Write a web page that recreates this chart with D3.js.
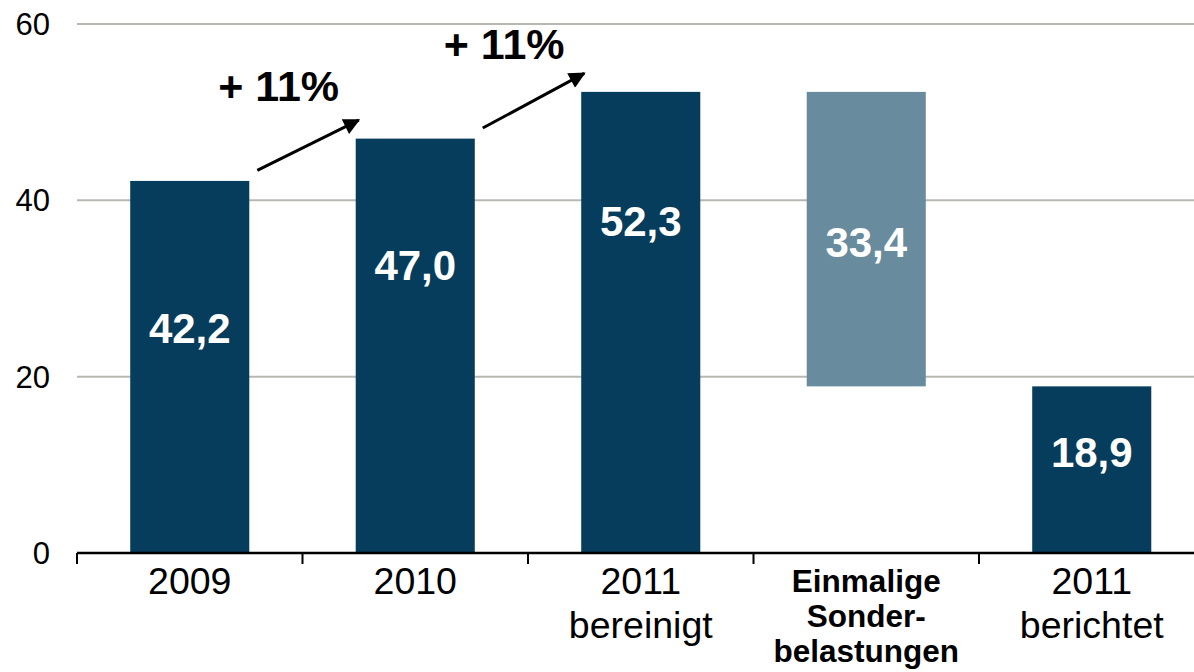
<!DOCTYPE html>
<html lang="de">
<head>
    <meta charset="UTF-8">
    <title>Ergebnis 2009-2011</title>
    <style>
        html, body {
            margin: 0;
            background: #fff;
        }
        svg text {
            font-family: "Liberation Sans", Arial, sans-serif;
        }
    </style>
</head>
<body>
    <div id="chart"></div>

    <script src="https://d3js.org/d3.v7.min.js"></script>
    <script>
    // data
    const categories = ["2009", "2010", "2011 bereinigt", "Einmalige Sonderbelastungen", "2011 berichtet"];
    const tickLines = [["2009"], ["2010"], ["2011", "bereinigt"], ["Einmalige", "Sonder-", "belastungen"], ["2011", "berichtet"]];
    const boldTicks = [false, false, false, true, false];
    const values = [42.2, 47.0, 52.3, 33.4, 18.9];
    const bases = [0, 0, 0, 18.9, 0];
    const highlight = [false, false, false, true, false];
    const yTicks = [0, 20, 40, 60];
    const growth = [
        { from: 0, to: 1, text: "+ 11%" },
        { from: 1, to: 2, text: "+ 11%" }
    ];

    // where the white value labels sit (baseline, in axis units)
    const labelLevel = [23.8, 31.0, 36.0, 33.6, 9.8];

    const width = 1194, height = 672;
    const plotLeft = 77, plotTop = 24, plotBottom = 553;
    const step = 225.5;

    const svg = d3.select("#chart").append("svg")
        .attr("width", width)
        .attr("height", height);

    const x = d3.scaleBand()
        .domain(categories)
        .range([plotLeft, plotLeft + step * categories.length])
        .padding(0);
    const barW = x.bandwidth() * 0.528;
    const barX = i => x(categories[i]) + (x.bandwidth() - barW) / 2;

    const y = d3.scaleLinear().domain([0, 60]).range([plotBottom, plotTop]);

    const comma = d3.formatLocale({ decimal: ",", thousands: ".", grouping: [3], currency: ["", " €"] }).format(".1f");

    // gridlines
    svg.append("g")
        .selectAll("line")
        .data(yTicks.filter(d => d > 0))
        .join("line")
            .attr("x1", plotLeft)
            .attr("x2", width)
            .attr("y1", d => y(d))
            .attr("y2", d => y(d))
            .attr("stroke", "#b8b8b3")
            .attr("stroke-width", 2);

    // y labels
    svg.append("g")
        .selectAll("text")
        .data(yTicks)
        .join("text")
            .attr("x", 50)
            .attr("y", d => y(d))
            .attr("dy", "0.35em")
            .attr("text-anchor", "end")
            .attr("font-size", 31)
            .attr("fill", "#000")
            .text(d => d);

    // bars
    svg.append("g")
        .selectAll("rect")
        .data(values)
        .join("rect")
            .attr("x", (d, i) => barX(i))
            .attr("width", barW)
            .attr("y", (d, i) => y(bases[i] + d))
            .attr("height", (d, i) => y(bases[i]) - y(bases[i] + d))
            .attr("fill", (d, i) => highlight[i] ? "#688b9e" : "#063c5c");

    // value labels
    svg.append("g")
        .selectAll("text")
        .data(values)
        .join("text")
            .attr("x", (d, i) => x(categories[i]) + x.bandwidth() / 2)
            .attr("y", (d, i) => y(labelLevel[i]))
            .attr("text-anchor", "middle")
            .attr("font-size", 42)
            .attr("font-weight", "bold")
            .attr("fill", "#fff")
            .text(d => comma(d));

    // x axis
    const xAxis = svg.append("g");
    xAxis.append("line")
        .attr("x1", plotLeft)
        .attr("x2", width)
        .attr("y1", plotBottom)
        .attr("y2", plotBottom)
        .attr("stroke", "#000")
        .attr("stroke-width", 2.5);
    xAxis.selectAll(".tick")
        .data(categories)
        .join("line")
            .attr("class", "tick")
            .attr("x1", d => x(d))
            .attr("x2", d => x(d))
            .attr("y1", plotBottom)
            .attr("y2", plotBottom + 11)
            .attr("stroke", "#000")
            .attr("stroke-width", 2);

    const labels = xAxis.selectAll(".xlabel")
        .data(tickLines)
        .join("text")
            .attr("class", "xlabel")
            .attr("text-anchor", "middle")
            .attr("fill", "#000")
            .attr("font-size", (d, i) => boldTicks[i] ? 31.5 : 37.5)
            .attr("font-weight", (d, i) => boldTicks[i] ? "bold" : "normal")
            .attr("transform", (d, i) => `translate(${x(categories[i]) + x.bandwidth() / 2},${plotBottom + 41})`);
    labels.selectAll("tspan")
        .data((d, i) => d.map(t => ({ t, bold: boldTicks[i] })))
        .join("tspan")
            .attr("x", 0)
            .attr("dy", (d, j) => j === 0 ? (d.bold ? -2 : 0) : (d.bold ? 35 : 44))
            .text(d => d.t);

    // growth arrows
    svg.append("defs").append("marker")
        .attr("id", "head")
        .attr("viewBox", "0 0 10 10")
        .attr("refX", 9)
        .attr("refY", 5)
        .attr("markerWidth", 6)
        .attr("markerHeight", 5.5)
        .attr("markerUnits", "strokeWidth")
        .attr("orient", "auto")
        .append("path")
            .attr("d", "M0,0L10,5L0,10z")
            .attr("fill", "#000");

    const arrows = svg.append("g")
        .selectAll("g")
        .data(growth)
        .join("g");
    const sx = d => barX(d.from) + barW + 8;
    const sy = d => y(values[d.from] + bases[d.from] + 1.2);
    arrows.append("line")
        .attr("x1", sx)
        .attr("y1", sy)
        .attr("x2", d => barX(d.to) + 3)
        .attr("y2", d => y(values[d.to] + bases[d.to] + 2.1))
        .attr("stroke", "#000")
        .attr("stroke-width", 3)
        .attr("marker-end", "url(#head)");
    arrows.append("text")
        .attr("x", d => sx(d) - 39)
        .attr("y", d => sy(d) - 69)
        .attr("font-size", 43)
        .attr("font-weight", "bold")
        .attr("fill", "#000")
        .text(d => d.text);
    </script>
</body>
</html>
